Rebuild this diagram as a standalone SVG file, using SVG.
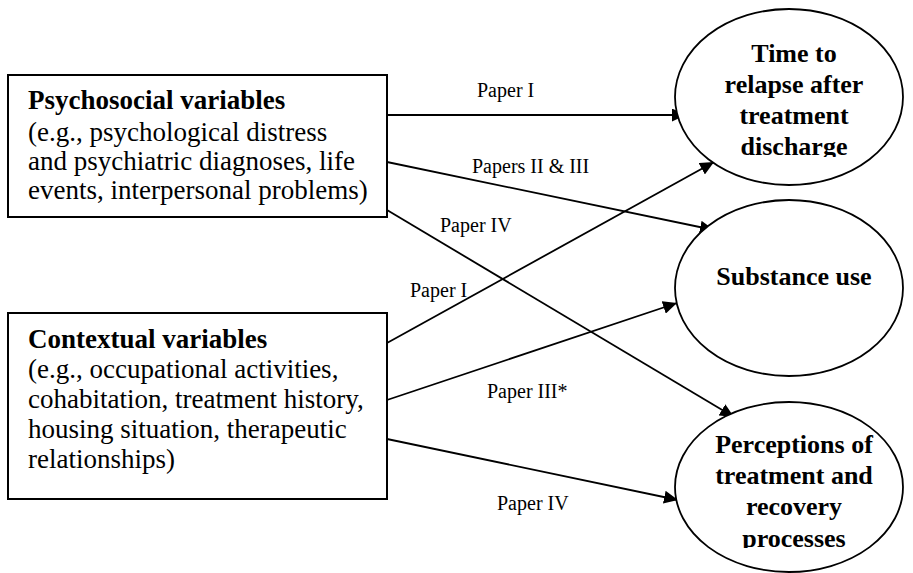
<svg xmlns="http://www.w3.org/2000/svg" width="913" height="573" viewBox="0 0 913 573">
<style>
.box{fill:#fff;stroke:#000;stroke-width:2}
.ell{fill:#fff;stroke:#000;stroke-width:1.8}
.t{font-family:"Liberation Serif","Times New Roman",serif;font-size:27px;fill:#000}
.b{font-weight:bold}
.et{font-family:"Liberation Serif","Times New Roman",serif;font-size:26px;font-weight:bold;fill:#000;text-anchor:middle}
.lbl{font-family:"Liberation Serif","Times New Roman",serif;font-size:20px;fill:#000}
.c{fill:none;stroke:#000;stroke-width:1.8}
</style>
<defs>
<marker id="ah" viewBox="0 0 14 13" refX="14" refY="6.5" markerWidth="14" markerHeight="13" markerUnits="userSpaceOnUse" orient="auto">
<path d="M0,0 L14,6.5 L0,13 Z" fill="#000"/>
</marker>
<clipPath id="c1"><rect x="680" y="20" width="220" height="137"/></clipPath>
<clipPath id="c3"><rect x="680" y="420" width="220" height="128"/></clipPath>
</defs>
<g id="connectors">
<line class="c" x1="387" y1="115" x2="686" y2="115" marker-end="url(#ah)"/>
<line class="c" x1="387" y1="162" x2="714" y2="230" marker-end="url(#ah)"/>
<line class="c" x1="387" y1="210" x2="734" y2="417" marker-end="url(#ah)"/>
<line class="c" x1="387" y1="343" x2="714" y2="162" marker-end="url(#ah)"/>
<line class="c" x1="387" y1="400" x2="677" y2="303" marker-end="url(#ah)"/>
<line class="c" x1="387" y1="439" x2="678" y2="500" marker-end="url(#ah)"/>
<text class="lbl" x="477" y="97">Paper I</text>
<text class="lbl" x="472" y="173">Papers II &amp; III</text>
<text class="lbl" x="440" y="232">Paper IV</text>
<text class="lbl" x="410" y="297">Paper I</text>
<text class="lbl" x="487" y="398">Paper III*</text>
<text class="lbl" x="497" y="510">Paper IV</text>
</g>
<g id="psychosocial">
<rect class="box" x="8" y="75" width="379" height="142"/>
<text class="t b" x="28" y="109">Psychosocial variables</text>
<text class="t" x="28" y="141">(e.g., psychological distress</text>
<text class="t" x="28" y="170">and psychiatric diagnoses, life</text>
<text class="t" x="28" y="199">events, interpersonal problems)</text>
</g>
<g id="contextual">
<rect class="box" x="8" y="313" width="379" height="186"/>
<text class="t b" x="28" y="348">Contextual variables</text>
<text class="t" x="28" y="378">(e.g., occupational activities,</text>
<text class="t" x="28" y="408">cohabitation, treatment history,</text>
<text class="t" x="28" y="438">housing situation, therapeutic</text>
<text class="t" x="28" y="468">relationships)</text>
</g>
<g id="relapse">
<ellipse class="ell" cx="789" cy="97" rx="114" ry="88"/>
<g clip-path="url(#c1)">
<text class="et" x="794" y="62">Time to</text>
<text class="et" x="794" y="93">relapse after</text>
<text class="et" x="794" y="124">treatment</text>
<text class="et" x="794" y="155">discharge</text>
</g>
</g>
<g id="substance">
<ellipse class="ell" cx="789" cy="288" rx="114" ry="88"/>
<text class="et" x="794" y="285">Substance use</text>
</g>
<g id="perceptions">
<ellipse class="ell" cx="789" cy="487" rx="114" ry="85"/>
<g clip-path="url(#c3)">
<text class="et" x="794" y="453">Perceptions of</text>
<text class="et" x="794" y="484">treatment and</text>
<text class="et" x="794" y="515">recovery</text>
<text class="et" x="794" y="547">processes</text>
</g>
</g>
</svg>
